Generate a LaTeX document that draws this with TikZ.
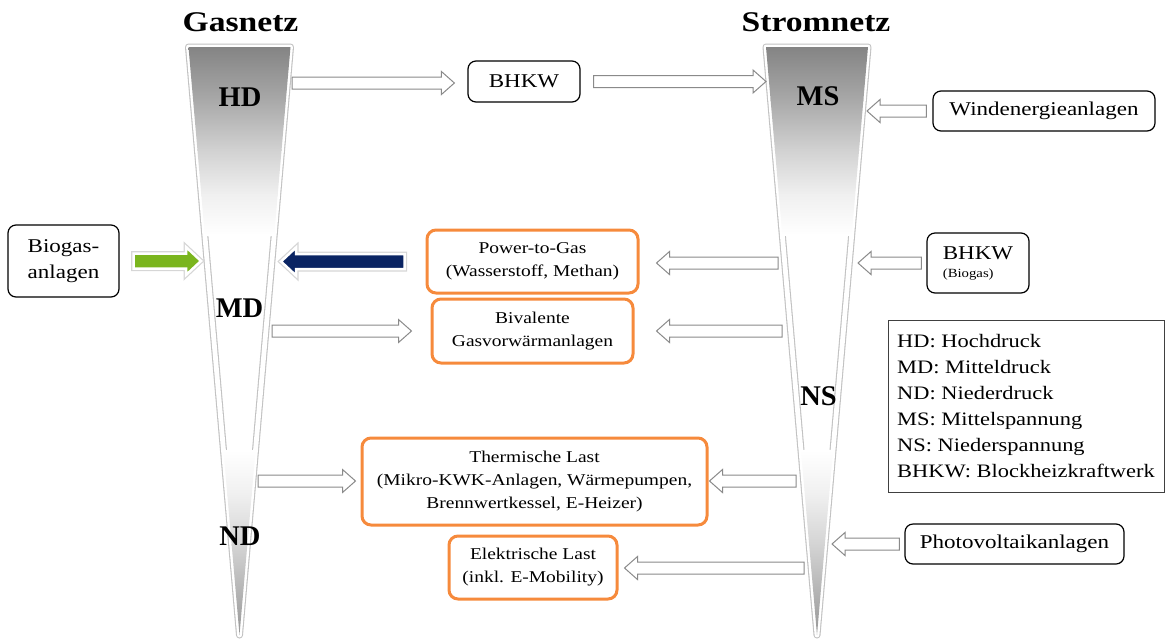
\documentclass[tikz,border=0pt]{standalone}
\usepackage{fontspec}
\setmainfont{Liberation Serif}[FakeStretch=1.18]
\newfontfamily\lvlfont{Liberation Serif}
\usetikzlibrary{calc}
\definecolor{orng}{HTML}{F68A3C}
\definecolor{arrgray}{HTML}{8A8A8A}
\definecolor{grn}{HTML}{7AB51D}
\definecolor{navy}{HTML}{0A2463}
\begin{document}
\begin{tikzpicture}[x=1pt,y=-1pt,
  bbox/.style={draw=black, line width=1.2pt, rounded corners=8pt, inner sep=0pt, align=center,
    font=\fontsize{19.5}{26}\selectfont},
  obox/.style={draw=orng, line width=3pt, rounded corners=9pt, fill=white, inner sep=0pt, align=center,
    font=\fontsize{16.5}{23}\selectfont},
  lvl/.style={font=\lvlfont\bfseries\fontsize{28.5}{30}\selectfont, anchor=base, inner sep=0pt},
  ttl/.style={font=\bfseries\fontsize{28.5}{32}\selectfont, anchor=base, inner sep=0pt},
  blk/.style n args={3}{to path={let \p1=(\tikztostart), \p2=(\tikztotarget), \n1={sign(\x2-\x1)} in
    (\x1,{\y1+#1}) -- ({\x2-\n1*#3},{\y1+#1}) -- ({\x2-\n1*#3},{\y1+#2}) -- (\x2,\y1)
    -- ({\x2-\n1*#3},{\y1-#2}) -- ({\x2-\n1*#3},{\y1-#1}) -- (\x1,{\y1-#1}) -- cycle}},
  harrow/.style={blk={6pt}{11.5pt}{13pt}, draw=arrgray, fill=white, line width=1pt, line join=miter},
  farrow/.style={blk={7.5pt}{14pt}{15pt}, fill=#1, draw=white, line width=2.5pt,
    preaction={draw=black!16, line width=5pt}},
  funnelshadow/.style={draw=black!24, line width=7pt, line join=round},
  funnelrim/.style={draw=white, line width=4.8pt, line join=round},
]
\useasboundingbox (0,0) rectangle (1165,641);

% funnels
\coordinate (gA) at (188.5,47);
\coordinate (gB) at (290.5,47);
\coordinate (gC) at (239.5,635);
\coordinate (sA) at (766,47);
\coordinate (sB) at (868,47);
\coordinate (sC) at (817,635);
\path[funnelshadow] (gA) -- (gB) -- (gC) -- cycle;
\path[funnelshadow] (sA) -- (sB) -- (sC) -- cycle;
\path[funnelrim] (gA) -- (gB) -- (gC) -- cycle;
\path[funnelrim] (sA) -- (sB) -- (sC) -- cycle;
\begin{scope}
  \clip (gA) -- (gB) -- (gC) -- cycle (sA) -- (sB) -- (sC) -- cycle;
  \shade[top color=black!50, bottom color=black!34] (150,40) rectangle (900,100);
  \shade[top color=black!34, bottom color=black!18] (150,99.5) rectangle (900,150);
  \shade[top color=black!18, bottom color=black!6] (150,149.5) rectangle (900,195);
  \shade[top color=black!6, bottom color=white] (150,194.5) rectangle (900,235);
  \shade[top color=white, bottom color=black!6] (150,450) rectangle (900,495);
  \shade[top color=black!6, bottom color=black!17] (150,494.5) rectangle (900,545);
  \shade[top color=black!17, bottom color=black!42] (150,544.5) rectangle (900,640);
\end{scope}

% titles and levels
\node[ttl] (tGas) at (240.5,31) {Gasnetz};
\node[ttl] (tStrom) at (816,31) {Stromnetz};
\node[lvl] (lHD) at (240,106) {HD};
\node[lvl] (lMS) at (818,105) {MS};
\node[lvl] (lMD) at (239.5,317) {MD};
\node[lvl] (lNS) at (818.5,405) {NS};
\node[lvl] (lND) at (240,545) {ND};

% boxes
\node[bbox, minimum width=112pt, minimum height=41pt] (bhkw) at (524,81.5) {BHKW};
\node[bbox, minimum width=222pt, minimum height=40pt] (wind) at (1044,111) {Windenergieanlagen};
\node[bbox, minimum width=111pt, minimum height=72pt, align=left] (biogas) at (63.5,261) {Biogas-\\anlagen};
\node[bbox, minimum width=102pt, minimum height=60pt, align=left] (bhkwb) at (978,263) {BHKW\\[-8pt]{\fontsize{12.5}{15}\selectfont (Biogas)}};
\node[bbox, minimum width=219pt, minimum height=40pt] (pv) at (1014.5,544) {Photovoltaikanlagen};
\node[obox, minimum width=211pt, minimum height=63pt] (p2g) at (532.5,261.5) {Power-to-Gas\\(Wasserstoff, Methan)};
\node[obox, minimum width=201pt, minimum height=64pt] (biv) at (532.5,331) {Bivalente\\Gasvorwärmanlagen};
\node[obox, minimum width=345pt, minimum height=87pt] (therm) at (534.5,481.5) {Thermische Last\\(Mikro-KWK-Anlagen, Wärmepumpen,\\Brennwertkessel, E-Heizer)};
\node[obox, minimum width=168pt, minimum height=63pt] (elek) at (533,567.5) {Elektrische Last\\(inkl. E-Mobility)};
\node[draw=black!75, line width=1pt, minimum width=276pt, minimum height=172pt,
  align=left, inner sep=0pt, font=\fontsize{19}{26}\selectfont] (legend) at (1026,406)
  {HD: Hochdruck\\MD: Mitteldruck\\ND: Niederdruck\\MS: Mittelspannung\\NS: Niederspannung\\BHKW: Blockheizkraftwerk};

% arrow end points on the funnel edges
\coordinate (gHD) at (292,83);
\coordinate (sMS) at (766,83);
\coordinate (sW) at (867,111);
\coordinate (gMDl) at (201,261);
\coordinate (gMDr) at (281,261);
\coordinate (sP2G) at (778,263);
\coordinate (sBb) at (858,263);
\coordinate (gBiv) at (272,331);
\coordinate (sBiv) at (782,331);
\coordinate (gTh) at (258,481);
\coordinate (sTh) at (796,481);
\coordinate (sPV) at (832,543);
\coordinate (sEl) at (804,568);

% arrows
\draw[harrow] (gHD) to ([xshift=-13pt]bhkw.west);
\draw[harrow] ([xshift=13pt]bhkw.east) to (sMS);
\draw[harrow] ([xshift=-6pt]wind.west) to (sW);
\draw[farrow=grn] ([xshift=14pt]biogas.east) to (gMDl);
\draw[farrow=navy] ([xshift=-21pt]p2g.west) to (gMDr);
\draw[harrow] (sP2G) to ([xshift=17pt]p2g.east);
\draw[harrow] ([xshift=-5pt]bhkwb.west) to (sBb);
\draw[harrow] (gBiv) to ([xshift=-19pt]biv.west);
\draw[harrow] (sBiv) to ([xshift=22pt]biv.east);
\draw[harrow] (gTh) to ([xshift=-5pt]therm.west);
\draw[harrow] (sTh) to ([xshift=1pt]therm.east);
\draw[harrow] ([xshift=-5pt]pv.west) to (sPV);
\draw[harrow] (sEl) to ([xshift=6pt]elek.east);
\end{tikzpicture}
\end{document}
